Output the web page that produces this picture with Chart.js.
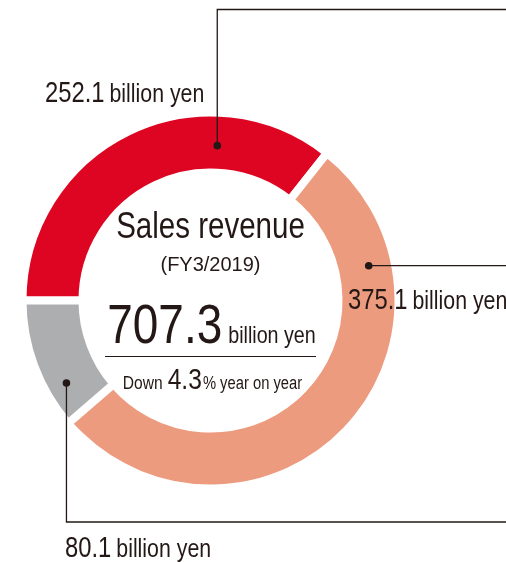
<!DOCTYPE html>
<html>
<head>
<meta charset="utf-8">
<script src="https://cdn.jsdelivr.net/npm/chart.js@4"></script>
<style>
  html,body{margin:0;padding:0;background:#fff;}
  #c{display:block;}
</style>
</head>
<body>
<canvas id="c" width="506" height="562"></canvas>
<script>
// ---- data ----
const SEGMENTS=["Segment 1","Segment 2","Segment 3"];
const VALUES=[252.1,375.1,80.1];            // billion yen
const UNIT="billion yen";
const TITLE="Sales revenue";
const PERIOD="(FY3/2019)";
const YOY_CHANGE=4.3;                       // % down year on year

// ---- styles ----
const COLORS=["#DE0523","#ED9B7F","#ADAEB0"];
const INK="#231815";
const SANS='"Liberation Sans",Arial,sans-serif';
const NARROW=0.82;   // horizontal squeeze -> narrow face (no Arial Narrow installed)

const TOTAL=VALUES.reduce((a,b)=>a+b,0);

// leader line per segment: dot at angle (deg clockwise from top) / radius, then a path
const LEADERS=[
  {deg:2.5,  r:155, path:[["x",9.5],[506,9.5]],  lx:45,  ly:102},
  {deg:77.6, r:162, path:[[506,"y"]],            lx:348, ly:309},
  {deg:240.2,r:166, path:[["x",522],[506,522]],  lx:65,  ly:557}
];

// draw narrow text, returns its width
function txt(ctx,s,x,y,size,sx){
  sx=sx||NARROW; ctx.font=`${size}px ${SANS}`; ctx.textAlign="left";
  const w=ctx.measureText(s).width*sx;
  ctx.save(); ctx.translate(x,y); ctx.scale(sx,1); ctx.fillText(s,0,0); ctx.restore();
  return w;
}
function width(ctx,s,size,sx){ ctx.font=`${size}px ${SANS}`; return ctx.measureText(s).width*(sx||NARROW); }
function pair(ctx,num,unit,x,y,n,u){ const w=txt(ctx,num,x,y,n); txt(ctx,unit,x+w+5,y,u); }

const annot={ id:"annot", afterDatasetsDraw(chart){
  const ctx=chart.ctx, arcs=chart.getDatasetMeta(0).data;
  const cx=arcs[0].x, cy=arcs[0].y;
  ctx.save();
  ctx.fillStyle=INK; ctx.strokeStyle=INK; ctx.textBaseline="alphabetic";
  LEADERS.forEach((L,i)=>{
    const a=L.deg*Math.PI/180;
    const x=cx+L.r*Math.sin(a), y=cy-L.r*Math.cos(a);
    ctx.lineWidth=1.3; ctx.beginPath(); ctx.moveTo(x,y);
    L.path.forEach(p=>ctx.lineTo(p[0]==="x"?x:p[0], p[1]==="y"?y:p[1]));
    ctx.stroke();
    ctx.beginPath(); ctx.arc(x,y,3.8,0,Math.PI*2); ctx.fill();
    pair(ctx,VALUES[i].toFixed(1),UNIT,L.lx,L.ly,29,26);
  });
  // centre block
  txt(ctx,TITLE,cx-width(ctx,TITLE,36)/2,238,36);
  txt(ctx,PERIOD,cx-width(ctx,PERIOD,20,1)/2,271,20,1);
  const tot=TOTAL.toFixed(1), tw=width(ctx,tot,56), uw=width(ctx,UNIT,24);
  const x0=cx+1-(tw+6+uw)/2;
  txt(ctx,tot,x0,343,56);
  txt(ctx,UNIT,x0+tw+6,343,24);
  ctx.lineWidth=1.2; ctx.beginPath(); ctx.moveTo(105,356.5); ctx.lineTo(316,356.5); ctx.stroke();
  const p1="Down", p2=YOY_CHANGE.toFixed(1), p3="% year on year";
  const w1=width(ctx,p1,19), w2=width(ctx,p2,30), w3=width(ctx,p3,18);
  let x=cx+2-(w1+5+w2+1+w3)/2;
  x+=txt(ctx,p1,x,389,19)+5;
  x+=txt(ctx,p2,x,389,30)+1;
  txt(ctx,p3,x,389,18);
  ctx.restore();
}};

new Chart(document.getElementById("c").getContext("2d"),{
  type:"doughnut",
  data:{ labels:SEGMENTS, datasets:[{ data:VALUES, backgroundColor:COLORS,
    borderColor:"#fff", borderWidth:8, borderJoinStyle:"miter", hoverOffset:0 }]},
  options:{ animation:false, responsive:false, maintainAspectRatio:false,
    rotation:-90, radius:188, cutout:"68.09%",
    layout:{ padding:{ left:10, right:95, top:90, bottom:51 } },
    plugins:{ legend:{display:false}, tooltip:{enabled:false} } },
  plugins:[annot]
});
</script>
</body>
</html>
